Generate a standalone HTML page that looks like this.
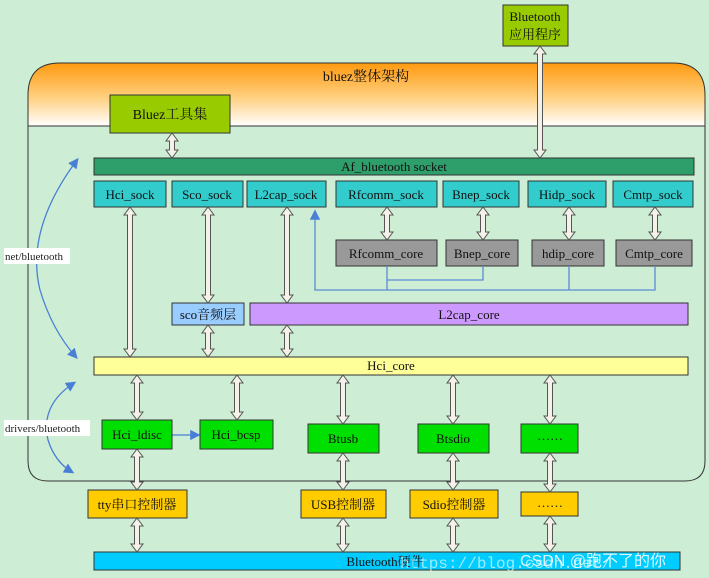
<!DOCTYPE html>
<html><head><meta charset="utf-8"><style>
html,body{margin:0;padding:0;background:#cdeed5;}
svg{display:block;font-family:"Liberation Serif","Noto Serif CJK SC",serif;}
.t{font-size:13px;fill:#111;text-anchor:middle;}
.ar{fill:#f4f2e8;stroke:#555;stroke-width:1;}
.b{stroke:#333;stroke-width:1;}
</style></head><body>
<svg width="709" height="578" viewBox="0 0 709 578" xmlns="http://www.w3.org/2000/svg">
<defs>
<linearGradient id="og" x1="0" y1="0" x2="0" y2="1">
<stop offset="0" stop-color="#ff9a10"/><stop offset="0.55" stop-color="#ffd080"/><stop offset="1" stop-color="#ffffff"/>
</linearGradient>
<marker id="bh" markerWidth="8" markerHeight="8" refX="6" refY="4" orient="auto-start-reverse"><path d="M0,0 L8,4 L0,8 z" fill="#4a7fd6"/></marker>
</defs>
<rect width="709" height="578" fill="#cdeed5"/>
<path d="M28,126 L28,461 Q28,481 48,481 L685,481 Q705,481 705,461 L705,126 Z" fill="#cdeed5" stroke="#333" stroke-width="1"/>
<path d="M28,126 L28,95 Q28,63 60,63 L673,63 Q705,63 705,95 L705,126 Z" fill="url(#og)" stroke="#333" stroke-width="1"/>
<text class="t" x="366" y="81" style="font-size:14px">bluez整体架构</text>

<rect class="b" x="503" y="5" width="65" height="41" fill="#99cc00"/>
<text class="t" x="535" y="21">Bluetooth</text><text class="t" x="535" y="39">应用程序</text>

<rect class="b" x="110" y="95" width="120" height="38" fill="#99cc00"/>
<text class="t" x="170" y="119" style="font-size:14px">Bluez工具集</text>

<rect class="b" x="94" y="158" width="600" height="17" fill="#2e9e6a"/>
<text class="t" x="394" y="171">Af_bluetooth socket</text>

<g fill="#33cccc">
<rect class="b" x="94" y="181" width="72" height="26"/>
<rect class="b" x="172" y="181" width="71" height="26"/>
<rect class="b" x="247" y="181" width="79" height="26"/>
<rect class="b" x="336" y="181" width="101" height="26"/>
<rect class="b" x="443" y="181" width="76" height="26"/>
<rect class="b" x="528" y="181" width="78" height="26"/>
<rect class="b" x="613" y="181" width="80" height="26"/>
</g>
<text class="t" x="130" y="199">Hci_sock</text><text class="t" x="207" y="199">Sco_sock</text>
<text class="t" x="286" y="199">L2cap_sock</text><text class="t" x="386" y="199">Rfcomm_sock</text>
<text class="t" x="481" y="199">Bnep_sock</text><text class="t" x="567" y="199">Hidp_sock</text>
<text class="t" x="653" y="199">Cmtp_sock</text>

<g fill="#999">
<rect class="b" x="336" y="240" width="101" height="26"/>
<rect class="b" x="446" y="240" width="72" height="26"/>
<rect class="b" x="532" y="240" width="72" height="26"/>
<rect class="b" x="616" y="240" width="76" height="26"/>
</g>
<text class="t" x="386" y="258">Rfcomm_core</text><text class="t" x="482" y="258">Bnep_core</text>
<text class="t" x="568" y="258">hdip_core</text><text class="t" x="654" y="258">Cmtp_core</text>

<g fill="none" stroke="#5b8ad8" stroke-width="1.3">
<path d="M387,266 V290 M483,266 V280 H387 M569,266 V290 M655,266 V290 H315 V212" marker-end="url(#bh)"/>
</g>
<g fill="none" stroke="#4a7fd6" stroke-width="1.3">
<path d="M77,160 Q25,230 40,290 Q52,330 76,357" marker-start="url(#bh)" marker-end="url(#bh)"/>
<path d="M74,383 Q40,405 48,440 Q55,462 72,472" marker-start="url(#bh)" marker-end="url(#bh)"/>
<path d="M172,435 H198" marker-end="url(#bh)"/>
</g>
<rect x="4" y="248" width="66" height="16" fill="#fff"/>
<text x="5" y="260" style="font-size:11px" fill="#222">net/bluetooth</text>
<rect x="4" y="420" width="86" height="16" fill="#fff"/>
<text x="5" y="432" style="font-size:11px" fill="#222">drivers/bluetooth</text>

<rect class="b" x="172" y="303" width="72" height="22" fill="#99ccff"/>
<text class="t" x="208" y="319">sco音频层</text>
<rect class="b" x="250" y="303" width="438" height="22" fill="#cc99ff"/>
<text class="t" x="469" y="319">L2cap_core</text>

<rect class="b" x="94" y="357" width="594" height="18" fill="#ffff99"/>
<text class="t" x="391" y="370">Hci_core</text>

<g fill="#00e000">
<rect class="b" x="102" y="420" width="70" height="29"/>
<rect class="b" x="200" y="420" width="73" height="29"/>
<rect class="b" x="308" y="424" width="71" height="29"/>
<rect class="b" x="418" y="424" width="71" height="29"/>
<rect class="b" x="521" y="424" width="57" height="29"/>
</g>
<text class="t" x="137" y="439">Hci_ldisc</text><text class="t" x="236" y="439">Hci_bcsp</text>
<text class="t" x="343" y="443">Btusb</text><text class="t" x="453" y="443">Btsdio</text>
<text class="t" x="550" y="440">……</text>

<g fill="#ffcc00">
<rect class="b" x="88" y="490" width="99" height="28"/>
<rect class="b" x="301" y="490" width="85" height="28"/>
<rect class="b" x="410" y="490" width="88" height="28"/>
<rect class="b" x="521" y="492" width="57" height="24"/>
</g>
<text class="t" x="137" y="509">tty串口控制器</text><text class="t" x="343" y="509">USB控制器</text>
<text class="t" x="454" y="509">Sdio控制器</text><text class="t" x="550" y="507">……</text>

<rect class="b" x="94" y="552" width="586" height="18" fill="#00ccff"/>
<text class="t" x="385" y="566">Bluetooth硬件</text>
<text x="400" y="568" style="font-size:16px;font-family:'Liberation Mono',monospace" fill="#ffffff" fill-opacity="0.6">https://blog.csdn.net/</text>
<text x="520" y="566" style="font-size:16px;font-family:'Liberation Sans','Noto Sans CJK SC',sans-serif" fill="#ffffff" fill-opacity="0.85">CSDN @跑不了的你</text>

<g class="ar">
<polygon points="172,133 178,141 174.5,141 174.5,150 178,150 172,158 166,150 169.5,150 169.5,141 166,141"/>
<polygon points="540,46 546,54 542.5,54 542.5,150 546,150 540,158 534,150 537.5,150 537.5,54 534,54"/>
<polygon points="130,207 136,215 132.5,215 132.5,349 136,349 130,357 124,349 127.5,349 127.5,215 124,215"/>
<polygon points="208,207 214,215 210.5,215 210.5,295 214,295 208,303 202,295 205.5,295 205.5,215 202,215"/>
<polygon points="287,207 293,215 289.5,215 289.5,295 293,295 287,303 281,295 284.5,295 284.5,215 281,215"/>
<polygon points="387,207 393,215 389.5,215 389.5,232 393,232 387,240 381,232 384.5,232 384.5,215 381,215"/>
<polygon points="483,207 489,215 485.5,215 485.5,232 489,232 483,240 477,232 480.5,232 480.5,215 477,215"/>
<polygon points="569,207 575,215 571.5,215 571.5,232 575,232 569,240 563,232 566.5,232 566.5,215 563,215"/>
<polygon points="655,207 661,215 657.5,215 657.5,232 661,232 655,240 649,232 652.5,232 652.5,215 649,215"/>
<polygon points="208,325 214,333 210.5,333 210.5,349 214,349 208,357 202,349 205.5,349 205.5,333 202,333"/>
<polygon points="287,325 293,333 289.5,333 289.5,349 293,349 287,357 281,349 284.5,349 284.5,333 281,333"/>
<polygon points="137,375 143,383 139.5,383 139.5,412 143,412 137,420 131,412 134.5,412 134.5,383 131,383"/>
<polygon points="237,375 243,383 239.5,383 239.5,412 243,412 237,420 231,412 234.5,412 234.5,383 231,383"/>
<polygon points="343,375 349,383 345.5,383 345.5,416 349,416 343,424 337,416 340.5,416 340.5,383 337,383"/>
<polygon points="453,375 459,383 455.5,383 455.5,416 459,416 453,424 447,416 450.5,416 450.5,383 447,383"/>
<polygon points="550,375 556,383 552.5,383 552.5,416 556,416 550,424 544,416 547.5,416 547.5,383 544,383"/>
<polygon points="137,449 143,457 139.5,457 139.5,482 143,482 137,490 131,482 134.5,482 134.5,457 131,457"/>
<polygon points="343,453 349,461 345.5,461 345.5,482 349,482 343,490 337,482 340.5,482 340.5,461 337,461"/>
<polygon points="453,453 459,461 455.5,461 455.5,482 459,482 453,490 447,482 450.5,482 450.5,461 447,461"/>
<polygon points="550,453 556,461 552.5,461 552.5,484 556,484 550,492 544,484 547.5,484 547.5,461 544,461"/>
<polygon points="137,518 143,526 139.5,526 139.5,544 143,544 137,552 131,544 134.5,544 134.5,526 131,526"/>
<polygon points="343,518 349,526 345.5,526 345.5,544 349,544 343,552 337,544 340.5,544 340.5,526 337,526"/>
<polygon points="453,518 459,526 455.5,526 455.5,544 459,544 453,552 447,544 450.5,544 450.5,526 447,526"/>
<polygon points="550,516 556,524 552.5,524 552.5,544 556,544 550,552 544,544 547.5,544 547.5,524 544,524"/>
</g>
</svg>
</body></html>
